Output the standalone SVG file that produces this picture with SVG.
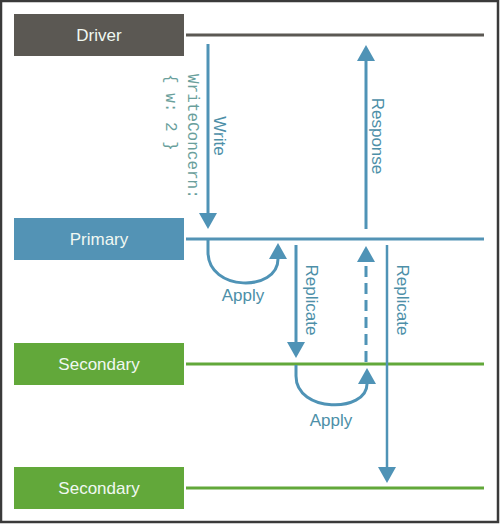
<svg xmlns="http://www.w3.org/2000/svg" width="500" height="524" viewBox="0 0 500 524">
<defs>
<style>
.box-text{font-family:"Liberation Sans","Open Sans",sans-serif;font-size:17px;fill:#f0f8f2;text-anchor:middle}
.lbl{font-family:"Liberation Sans","Open Sans",sans-serif;font-size:17px;fill:#4d8fa8;text-anchor:middle}
.mono{font-family:"Liberation Mono","DejaVu Sans Mono",monospace;font-size:16px;fill:#6a9f9c;text-anchor:start}
.arr{fill:none;stroke:#4f93b6;stroke-width:3}
</style>
<marker id="ah" viewBox="0 0 16 18" refX="0" refY="9" markerWidth="16" markerHeight="18" markerUnits="userSpaceOnUse" orient="auto">
<path d="M0,0 L16,9 L0,18 z" fill="#4f93b6"/>
</marker>
</defs>
<rect x="0" y="0" width="500" height="524" fill="#ffffff"/>
<rect x="1" y="1" width="497" height="521" fill="none" stroke="#3a3a3a" stroke-width="2.5"/>

<g id="driver">
<rect x="14" y="14" width="170" height="42" fill="#5b5853"/>
<text class="box-text" x="99" y="41">Driver</text>
<line x1="186" y1="35" x2="484" y2="35" stroke="#5b5853" stroke-width="3"/>
</g>
<g id="primary">
<rect x="14" y="218" width="170" height="42" fill="#5393b5"/>
<text class="box-text" x="99" y="245">Primary</text>
<line x1="186" y1="239" x2="484" y2="239" stroke="#5393b5" stroke-width="3"/>
</g>
<g id="secondary1">
<rect x="14" y="343" width="170" height="42" fill="#62a83a"/>
<text class="box-text" x="99" y="370">Secondary</text>
<line x1="186" y1="364" x2="484" y2="364" stroke="#62a83a" stroke-width="3"/>
</g>
<g id="secondary2">
<rect x="14" y="467" width="170" height="42" fill="#62a83a"/>
<text class="box-text" x="99" y="494">Secondary</text>
<line x1="186" y1="488" x2="484" y2="488" stroke="#62a83a" stroke-width="3"/>
</g>

<g id="connectors">
<path class="arr" d="M208 44 V213" marker-end="url(#ah)"/>
<path class="arr" d="M366 229 V61" marker-end="url(#ah)"/>
<path class="arr" d="M208 240 V252 C208 292 278 292 278 259" marker-end="url(#ah)"/>
<path class="arr" d="M296 245 V342" marker-end="url(#ah)"/>
<path class="arr" d="M366 362 V262" stroke-dasharray="11 6" marker-end="url(#ah)"/>
<path class="arr" d="M296 365 V376 C296 413 367 413 367 384" marker-end="url(#ah)"/>
<path class="arr" d="M387 245 V467" style="stroke-width:2.5" marker-end="url(#ah)"/>
</g>

<g id="labels">
<text class="lbl" transform="translate(220,136) rotate(90)" y="6">Write</text>
<text class="mono" transform="translate(193,74) rotate(90)" y="5">WriteConcern:</text>
<text class="mono" transform="translate(171,74) rotate(90)" y="5">{ w: 2 }</text>
<text class="lbl" transform="translate(378,136) rotate(90)" y="6">Response</text>
<text class="lbl" transform="translate(312,300) rotate(90)" y="6">Replicate</text>
<text class="lbl" transform="translate(403,300) rotate(90)" y="6">Replicate</text>
<text class="lbl" x="243" y="301">Apply</text>
<text class="lbl" x="331" y="426">Apply</text>
</g>
</svg>
